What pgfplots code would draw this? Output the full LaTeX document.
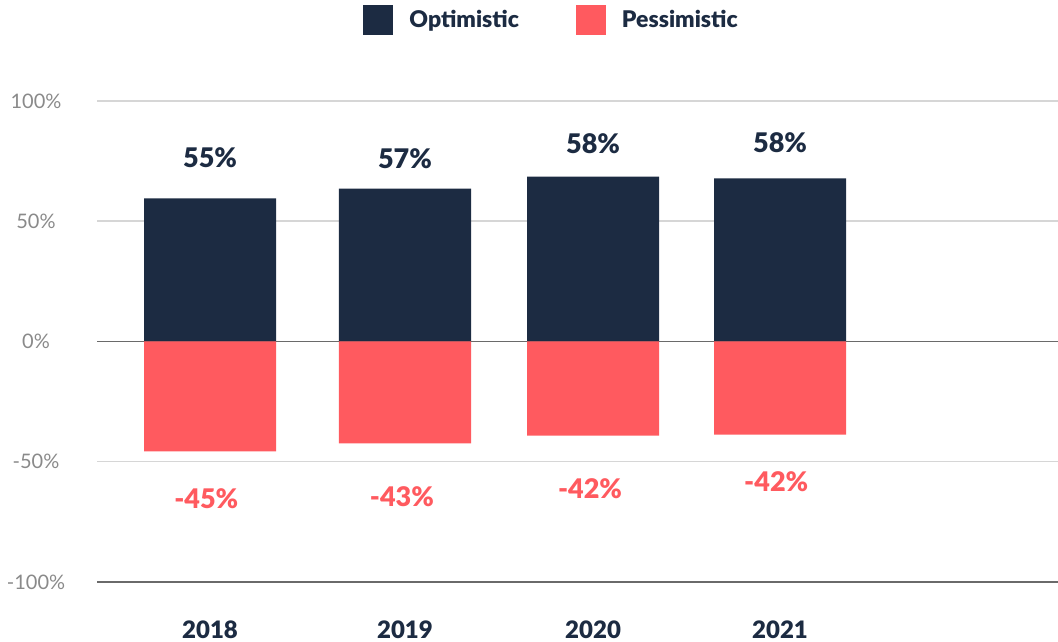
\documentclass[border=0pt]{standalone}
\usepackage{fontspec}
\setmainfont{Lato}[BoldFont={Lato Black}]
\usepackage{pgfplots}
\usepackage{pgfplotstable}
\pgfplotsset{compat=1.18}
\definecolor{navy}{HTML}{1C2B42}
\definecolor{coral}{HTML}{FF5A5F}
\definecolor{gridc}{HTML}{D6D6D6}
\definecolor{darkline}{HTML}{6A6A6A}
\definecolor{tickc}{HTML}{8A8A8A}

\pgfplotstableread{
x opt pes
0 59.5 -45.7
1.026 63.6 -42.4
2.016 68.6 -39.1
3 67.8 -38.7
}\bars
\pgfplotstableread{
x y lab
0 76.5 55
1.026 76.1 57
2.016 82.3 58
3 82.7 58
}\optlabels
\pgfplotstableread{
x y lab
-0.02 -65.3 -45
1.01 -64.4 -43
2.00 -61.1 -42
2.98 -58.2 -42
}\peslabels

\begin{document}
\begin{tikzpicture}
\begin{axis}[
  at={(97pt,60pt)}, anchor=south west,
  scale only axis, width=961pt, height=481pt,
  xmin=-0.595, xmax=4.463, ymin=-100, ymax=100,
  axis line style={draw=none},
  major tick length=0pt,
  tick style={draw=none},
  ytick={-100,-50,0,50,100},
  yticklabels={-100\%,-50\%,0\%,50\%,100\%},
  yticklabel style={anchor=center, xshift=-61pt, font=\fontsize{20}{20}\selectfont, text=tickc},
  xtick={0,1.026,2.016,3},
  xticklabels={2018,2019,2020,2021},
  xticklabel style={anchor=center, yshift=-48pt, font=\bfseries\fontsize{24}{24}\selectfont, text=navy},
  ymajorgrids,
  grid style={gridc, line width=1.5pt},
  extra y ticks={-100,0},
  extra y tick labels={},
  extra y tick style={grid style={darkline, line width=1.5pt}},
  legend columns=2,
  legend style={draw=none, fill=none, at={(0.473,1)}, anchor=center, yshift=81pt,
    font=\bfseries\fontsize{23}{23}\selectfont, text=navy,
    /tikz/every odd column/.append style={column sep=14pt},
    /tikz/every even column/.append style={column sep=55pt}},
]
\addplot[ybar, bar width=0.695, bar shift=0pt, fill=navy, draw=none,
  legend image code/.code={\fill[navy] (0pt,-15pt) rectangle (30pt,15pt);}]
  table[x=x, y=opt]{\bars};
\addlegendentry{Optimistic}
\addplot[ybar, bar width=0.695, bar shift=0pt, fill=coral, draw=none,
  legend image code/.code={\fill[coral] (0pt,-15pt) rectangle (30pt,15pt);}]
  table[x=x, y=pes]{\bars};
\addlegendentry{Pessimistic}
\addplot[draw=none, mark=none, forget plot, nodes near coords={\pgfplotspointmeta\%},
  point meta=explicit symbolic,
  every node near coord/.style={anchor=center, font=\bfseries\fontsize{27}{27}\selectfont, text=navy}]
  table[x=x, y=y, meta=lab]{\optlabels};
\addplot[draw=none, mark=none, forget plot, nodes near coords={\pgfplotspointmeta\%},
  point meta=explicit symbolic,
  every node near coord/.style={anchor=center, font=\bfseries\fontsize{27}{27}\selectfont, text=coral}]
  table[x=x, y=y, meta=lab]{\peslabels};
\end{axis}
\pgfresetboundingbox
\path[use as bounding box] (0pt,0pt) rectangle (1058pt,642pt);
\end{tikzpicture}
\end{document}
